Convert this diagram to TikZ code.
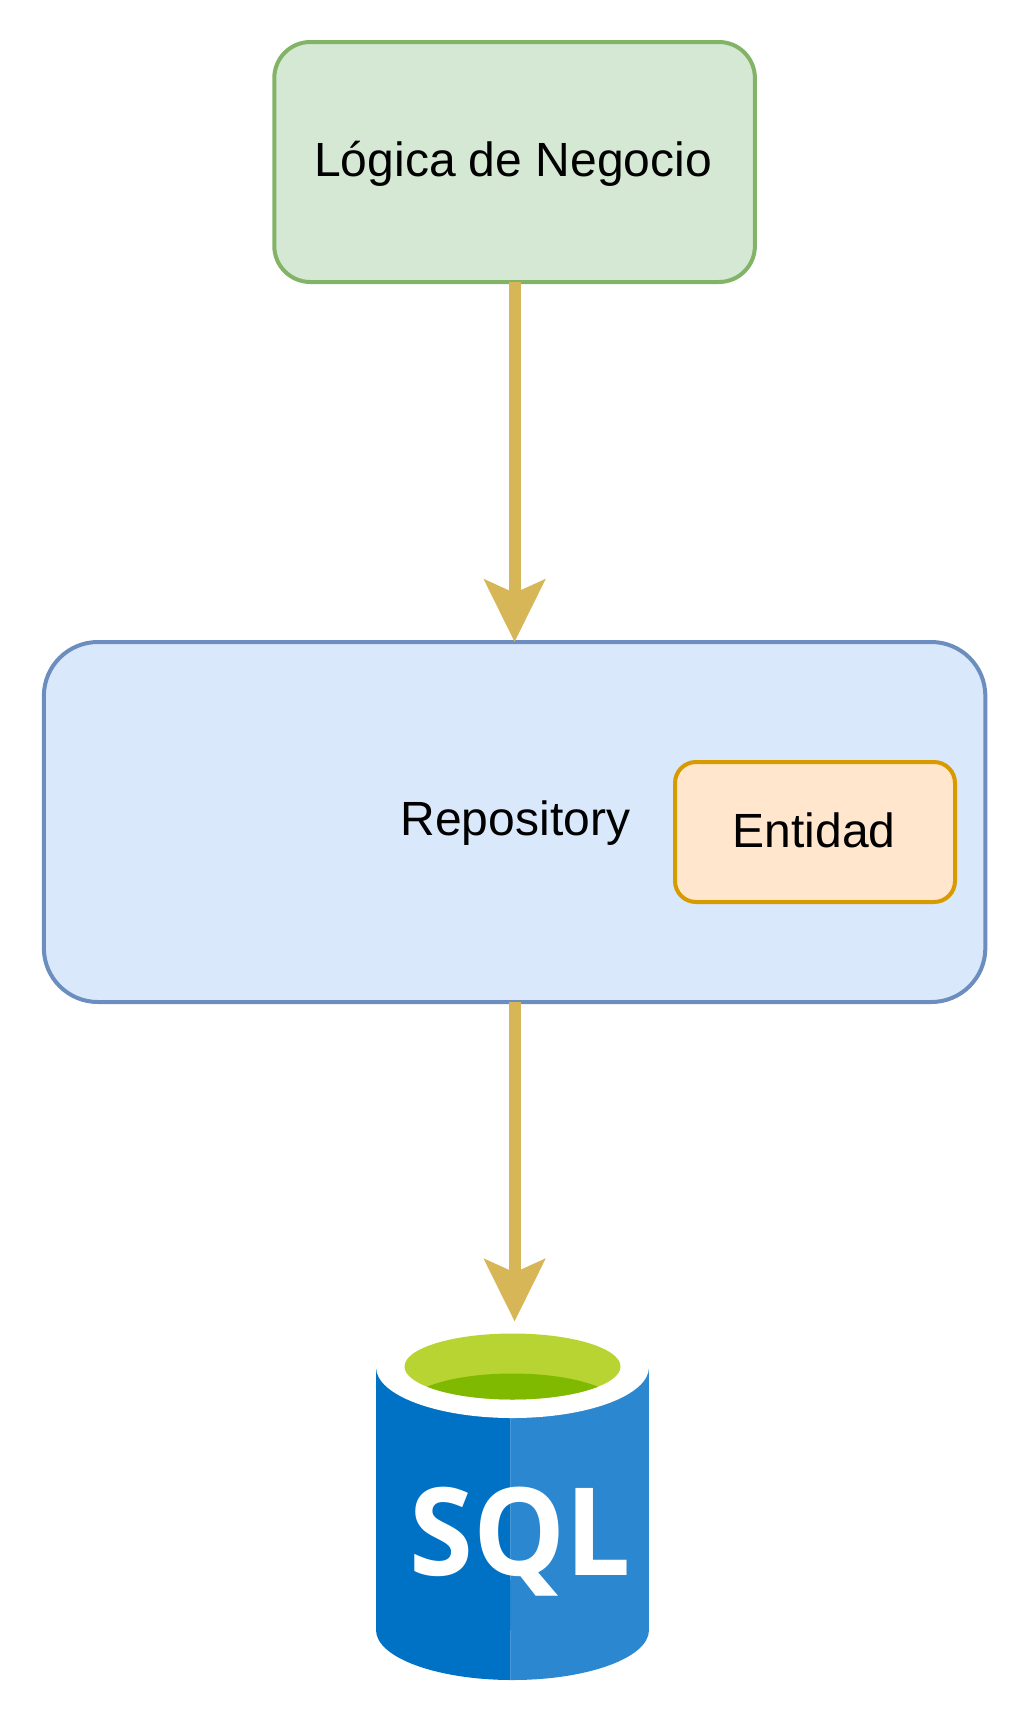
\documentclass[tikz,border=0pt]{standalone}
\usepackage{fontspec}
\setmainfont{Liberation Sans}
\newfontfamily\sqlfont{Open Sans}[BoldFont={Open Sans Bold}]
\usetikzlibrary{arrows.meta}
\definecolor{gfill}{HTML}{D5E8D4}
\definecolor{gline}{HTML}{82B366}
\definecolor{bfill}{HTML}{DAE8FC}
\definecolor{bline}{HTML}{6C8EBF}
\definecolor{ofill}{HTML}{FFE6CC}
\definecolor{oline}{HTML}{D79B00}
\definecolor{flowc}{HTML}{D6B656}
\definecolor{sqldark}{HTML}{0072C6}
\definecolor{sqllight}{HTML}{2A87D0}
\definecolor{limetop}{HTML}{B8D432}
\definecolor{limedark}{HTML}{7FBA00}
\tikzset{
  box/.style={draw, rectangle, line width=4pt, inner sep=0pt, outer sep=0pt, align=center,
    font=\fontsize{48}{56}\selectfont},
  flow/.style={draw=flowc, line width=12pt,
    -{Stealth[length=62pt, width=60pt, inset=13pt, fill=flowc]}, shorten >=0pt},
}
\begin{document}
\begin{tikzpicture}[x=1pt,y=-1pt]
\useasboundingbox (0,0) rectangle (1022,1724);
% cylinder
\begin{scope}
  \clip (370,1300) rectangle (510.5,1700);
  \fill[sqldark] (376,1367) rectangle (649,1630);
  \fill[sqldark] (512.5,1630) ellipse [x radius=136.5pt, y radius=50pt];
\end{scope}
\begin{scope}
  \clip (510.5,1300) rectangle (660,1700);
  \fill[sqllight] (376,1367) rectangle (649,1630);
  \fill[sqllight] (512.5,1630) ellipse [x radius=136.5pt, y radius=50pt];
\end{scope}
\fill[white] (512.5,1367) ellipse [x radius=136.5pt, y radius=51pt];
\fill[limetop] (512.5,1366.5) ellipse [x radius=108pt, y radius=33pt];
\begin{scope}
  \clip (512.5,1366.5) ellipse [x radius=108pt, y radius=33pt];
  \fill[limedark] (512.5,1407.5) ellipse [x radius=108pt, y radius=34pt];
\end{scope}
\node[anchor=base, text=white, inner sep=0pt, font=\sqlfont\bfseries\fontsize{122}{130}\selectfont, xscale=0.95] (sqltext) at (520,1575) {SQL};
\coordinate (sqltop) at (514.6,1321.5);
% boxes
\node[box, fill=gfill, draw=gline, minimum width=480.6pt, minimum height=240pt, rounded corners=36pt, text depth=7pt] (logica) at (514.6,162) {Lógica de Negocio\hspace{3pt}};
\node[box, fill=bfill, draw=bline, minimum width=941.5pt, minimum height=360pt, rounded corners=54pt, text depth=7pt] (repo) at (514.6,822) {\hspace*{1.5pt}Repository};
\node[box, fill=ofill, draw=oline, minimum width=280pt, minimum height=140pt, rounded corners=21pt, text depth=3.2pt] (entidad) at (815,832) {Entidad\hspace{2pt}};
% connectors
\draw[flow] (logica.south) -- (repo.north);
\draw[flow] (repo.south) -- (sqltop);
\end{tikzpicture}
\end{document}
